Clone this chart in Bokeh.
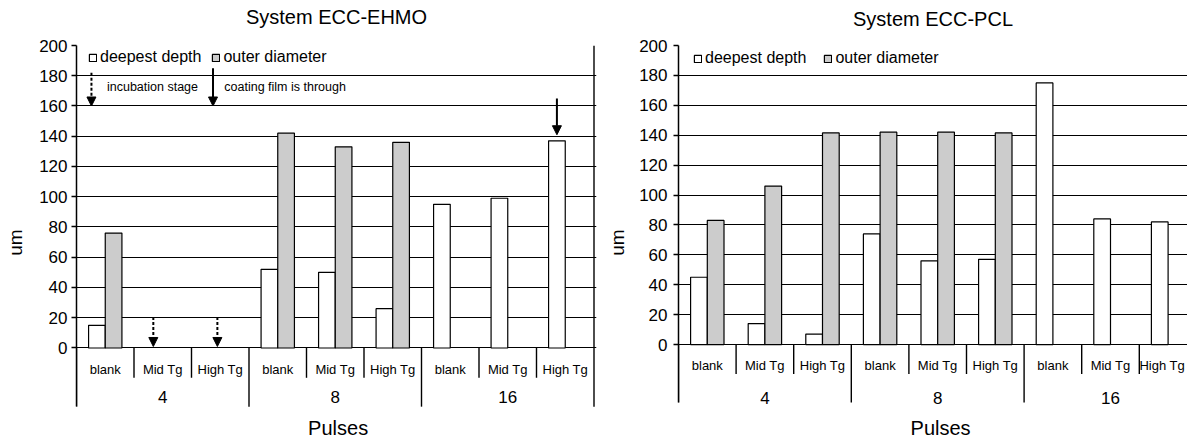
from bokeh.plotting import figure
from bokeh.models import (ColumnDataSource, Range1d, FixedTicker, Arrow, NormalHead,
                          Legend, LegendItem, Title)
from bokeh.layouts import row
from bokeh.embed import file_html
from bokeh.resources import INLINE
from bokeh.core.properties import value

# ---------------- data ----------------
groups = ["4", "8", "16"]
subgroups = ["blank", "Mid Tg", "High Tg"]
y_ticks = [0, 20, 40, 60, 80, 100, 120, 140, 160, 180, 200]
x_title = "Pulses"
y_title = "um"

ehmo_depth = [15, None, None, 52, 50, 26, 95, 99, 137]
ehmo_diam = [76, None, None, 142, 133, 136, None, None, None]
pcl_depth = [45, 14, 7, 74, 56, 57, 175, 84, 82]
pcl_diam = [83, 106, 141.5, 142, 142, 141.5, None, None, None]

# annotation arrows of the EHMO chart (category of each arrow)
ehmo_incubation = [("4", "Mid Tg"), ("4", "High Tg")]   # dash-dot arrows
ehmo_through = [("16", "High Tg")]                        # solid arrow

FONT = "Liberation Sans"
GREY = "#cccccc"
BAR_W = 0.29
AXIS_BOTTOM = -38.8
SUB_TICK = -19.7


def cat_index(g, s):
    return groups.index(g) * len(subgroups) + subgroups.index(s)


def make_chart(title, depth, diam, width, fl, fr, ft, xend, ymin, sub_y, grp_y,
               pulses_y, tick_standoff, ylab_standoff, legend_loc, legend_spacing,
               title_standoff, spacer_size):
    p = figure(width=width, height=439, output_backend="svg", toolbar_location=None,
               x_range=Range1d(0, xend), y_range=Range1d(ymin, 200),
               min_border_left=fl, min_border_right=fr, min_border_top=ft,
               min_border_bottom=0, title=None)
    p.outline_line_color = None
    p.background_fill_color = "white"
    p.border_fill_color = "white"
    p.xaxis.visible = False

    # an empty spacer between the frame and the title lifts the title
    p.add_layout(Title(text=" ", text_font=FONT, text_font_size=spacer_size, standoff=0),
                 "above")
    p.add_layout(Title(text=title, align="center", standoff=title_standoff,
                       text_font=FONT, text_font_size="20px", text_font_style="normal",
                       text_color="black"), "above")

    # y axis
    p.yaxis.ticker = FixedTicker(ticks=y_ticks)
    p.yaxis.bounds = (AXIS_BOTTOM, 200)
    p.yaxis.minor_tick_line_color = None
    p.yaxis.major_tick_out = 5
    p.yaxis.major_tick_in = 0
    p.yaxis.major_tick_line_color = "black"
    p.yaxis.major_tick_line_width = 1.3
    p.yaxis.axis_line_color = "black"
    p.yaxis.axis_line_width = 1.5
    p.yaxis.major_label_text_font = FONT
    p.yaxis.major_label_text_font_size = "17px"
    p.yaxis.major_label_text_color = "black"
    p.yaxis.major_label_standoff = tick_standoff
    p.yaxis.axis_label = y_title
    p.yaxis.axis_label_text_font = FONT
    p.yaxis.axis_label_text_font_size = "19px"
    p.yaxis.axis_label_text_font_style = "normal"
    p.yaxis.axis_label_text_color = "black"
    p.yaxis.axis_label_standoff = ylab_standoff

    p.xgrid.visible = False
    p.ygrid.grid_line_color = "black"
    p.ygrid.grid_line_width = 1.1

    n = len(groups) * len(subgroups)
    centers = [i + 0.5 for i in range(n)]

    d_src = ColumnDataSource(dict(
        x=[centers[i] - BAR_W / 2 for i in range(n) if depth[i] is not None],
        top=[v for v in depth if v is not None]))
    o_src = ColumnDataSource(dict(
        x=[centers[i] + BAR_W / 2 for i in range(n) if diam[i] is not None],
        top=[v for v in diam if v is not None]))
    r_d = p.vbar(x="x", top="top", bottom=0, width=BAR_W, source=d_src,
                 fill_color="white", line_color="black", line_width=1.2)
    r_o = p.vbar(x="x", top="top", bottom=0, width=BAR_W, source=o_src,
                 fill_color=GREY, line_color="black", line_width=1.2)

    # category axis drawn as in the original (two levels with separators)
    sub_sep = [i for i in range(1, n) if i % len(subgroups) != 0]
    grp_sep = [i * len(subgroups) for i in range(len(groups) + 1)]
    p.segment(x0=sub_sep, x1=sub_sep, y0=[0] * len(sub_sep), y1=[SUB_TICK] * len(sub_sep),
              line_color="black", line_width=1.4)
    p.segment(x0=grp_sep, x1=grp_sep, y0=[AXIS_BOTTOM] * len(grp_sep),
              y1=[0] * (len(grp_sep) - 1) + [200],
              line_color="black", line_width=1.4)
    lab_x = [min(c, xend - 0.44) for c in centers]
    p.text(x=lab_x, y=[sub_y] * n, text=subgroups * len(groups),
           text_align="center", text_baseline="middle",
           text_font=value(FONT), text_font_size="13px", text_color="black")
    gx = [i * len(subgroups) + len(subgroups) / 2 for i in range(len(groups))]
    p.text(x=gx, y=[grp_y] * len(groups), text=groups,
           text_align="center", text_baseline="middle",
           text_font=value(FONT), text_font_size="17px", text_color="black")
    p.text(x=[n / 2 + 0.05], y=[pulses_y], text=[x_title],
           text_align="center", text_baseline="middle",
           text_font=value(FONT), text_font_size="20px", text_color="black")

    legend = Legend(items=[LegendItem(label="deepest depth", renderers=[r_d]),
                           LegendItem(label="outer diameter", renderers=[r_o])],
                    orientation="horizontal", location=legend_loc,
                    glyph_width=9, glyph_height=9, label_standoff=3,
                    spacing=legend_spacing, padding=0, margin=0,
                    label_text_font=FONT, label_text_font_size="16px",
                    label_text_color="black", label_height=16,
                    border_line_color=None, background_fill_alpha=0)
    p.add_layout(legend)
    return p


p1 = make_chart("System ECC-EHMO", ehmo_depth, ehmo_diam, 600,
                76, 4, 43, 520 / 57.5, -60.5, -14.5, -32.6, -52.6, 4, 10, (12, 373), 10,
                4, "12px")
p2 = make_chart("System ECC-PCL", pcl_depth, pcl_diam, 587,
                78, 0, 45, 509 / 57.6, -63.5, -14.2, -35.6, -55.6, 6, 8, (15, 372), 17,
                7, "9px")

# ---- arrows (EHMO) ----
arrow_offsets = {("4", "Mid Tg"): 0.336, ("4", "High Tg"): 0.45, ("16", "High Tg"): 0.355}
for key in ehmo_incubation:
    x = cat_index(*key) + arrow_offsets[key]
    p1.add_layout(Arrow(x_start=x, y_start=20.5, x_end=x, y_end=1,
                        line_width=2, line_dash="3 2", line_color="black",
                        end=NormalHead(size=9, fill_color="black", line_color="black")))
for key in ehmo_through:
    x = cat_index(*key) + arrow_offsets[key]
    p1.add_layout(Arrow(x_start=x, y_start=165, x_end=x, y_end=141,
                        line_width=2, line_color="black",
                        end=NormalHead(size=9, fill_color="black", line_color="black")))

# arrow keys near the legend
p1.add_layout(Arrow(x_start=0.26, y_start=182, x_end=0.26, y_end=160,
                    line_width=2, line_dash="3 2", line_color="black",
                    end=NormalHead(size=9, fill_color="black", line_color="black")))
p1.add_layout(Arrow(x_start=2.374, y_start=185, x_end=2.374, y_end=160,
                    line_width=2, line_color="black",
                    end=NormalHead(size=9, fill_color="black", line_color="black")))
p1.text(x=[0.53, 2.57], y=[172.4, 172.4],
        text=["incubation stage", "coating film is through"],
        text_align="left", text_baseline="middle",
        text_font=value(FONT), text_font_size="12.5px", text_color="black")

layout = row(p1, p2)
open("out.html", "w").write(file_html(layout, INLINE))
